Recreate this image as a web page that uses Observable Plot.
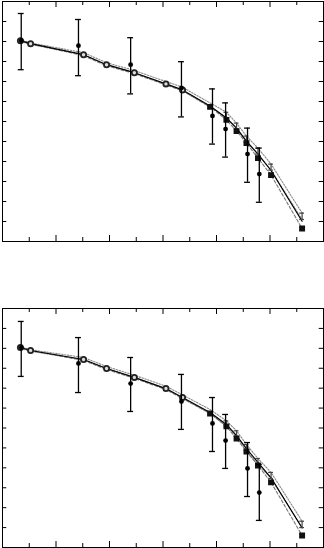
<!DOCTYPE html>
<html>
<head>
<meta charset="utf-8">
<script src="https://cdn.jsdelivr.net/npm/d3@7"></script>
<script src="https://cdn.jsdelivr.net/npm/@observablehq/plot@0.6"></script>
<style>
  html, body { margin: 0; padding: 0; background: #fff; }
  #chart svg { display: block; }
</style>
</head>
<body>
<div id="chart"></div>
<script>
// ---------- data ----------
const xModel = [0.67, 1.05, 3.03, 3.89, 4.93, 6.11, 6.73, 7.76, 8.37, 8.75, 9.12, 9.55, 10.04, 11.2];
const bandHalf = [0.04, 0.04, 0.05, 0.05, 0.06, 0.07, 0.08, 0.10, 0.13, 0.14, 0.15, 0.15, 0.15, 0.16];

// top panel
const solidTop = [10.04, 9.89, 9.34, 8.84, 8.44, 7.88, 7.58, 6.78, 6.18, 5.67, 5.02, 4.37, 3.55, 1.01];
const bandTop  = [10.04, 9.89, 9.39, 8.89, 8.49, 7.93, 7.63, 6.83, 6.33, 5.78, 5.12, 4.52, 3.72, 1.26];
const dashTop  = [10.04, 9.89, 9.29, 8.79, 8.39, 7.83, 7.53, 6.73, 6.08, 5.52, 4.92, 4.17, 3.32, 0.65];
const expX     = [0.7, 2.84, 4.79, 6.69, 7.85, 8.34, 9.16, 9.6];
const expTop   = [10.04, 9.79, 8.84, 7.68, 6.28, 5.62, 4.37, 3.37];
const expTopLo = [8.59, 8.29, 7.38, 6.23, 4.87, 4.22, 2.96, 1.96];
const expTopHi = [11.40, 11.10, 10.19, 8.99, 7.63, 6.93, 5.67, 4.67];

// bottom panel
const solidBot = [10.04, 9.89, 9.44, 8.99, 8.54, 7.98, 7.53, 6.78, 6.18, 5.62, 4.97, 4.27, 3.50, 0.98];
const bandBot  = [10.04, 9.89, 9.49, 9.04, 8.59, 8.03, 7.58, 6.83, 6.23, 5.72, 5.02, 4.32, 3.62, 1.16];
const dashBot  = [10.04, 9.89, 9.39, 8.94, 8.49, 7.93, 7.48, 6.73, 6.08, 5.47, 4.82, 4.12, 3.27, 0.60];
const expBot   = [10.04, 9.24, 8.23, 7.33, 6.23, 5.37, 3.97, 2.76];
const expBotLo = [8.59, 7.78, 6.83, 5.93, 4.82, 3.97, 2.56, 1.36];
const expBotHi = [11.35, 10.54, 9.54, 8.69, 7.53, 6.68, 5.27, 4.17];

const xTicks = [1, 2, 3, 4, 5, 6, 7, 8, 9, 10, 11];
const yTicks = [1, 2, 3, 4, 5, 6, 7, 8, 9, 10, 11];

// ---------- drawing ----------
function panel(solid, band, dash, ey, elo, ehi, height, marginTop) {
  const model = xModel.map((x, i) => ({x, s: solid[i], b: band[i], h: bandHalf[i], d: dash[i], i}));
  const exp = expX.map((x, i) => ({x, y: ey[i], lo: elo[i], hi: ehi[i]}));
  const early = model.filter(d => d.i < 7);
  const late = model.filter(d => d.i >= 7);
  const hg = model.filter(d => d.i >= 8);
  const cap = 0.11, hcap = 0.09;
  const ticks = xTicks.map(t => ({t, len: t % 2 === 0 ? 0.3 : 0.2}));
  const ylen = 0.16;
  return Plot.plot({
    width: 324,
    height,
    marginLeft: 2,
    marginRight: 1,
    marginTop,
    marginBottom: 1,
    x: {domain: [0, 12], axis: null},
    y: {domain: [0, 12], axis: null},
    marks: [
      // inward ticks
      Plot.ruleX(ticks, {x: "t", y1: 0, y2: d => d.len, stroke: "black"}),
      Plot.ruleX(ticks, {x: "t", y1: 12, y2: d => 12 - d.len, stroke: "black"}),
      Plot.ruleY(yTicks, {y: d => d, x1: 0, x2: ylen, stroke: "black"}),
      Plot.ruleY(yTicks, {y: d => d, x1: 12, x2: 12 - ylen, stroke: "black"}),
      // band (dotted)
      Plot.line(model, {x: "x", y: d => d.b + d.h, stroke: "#8a8a8a", strokeWidth: 1.1, strokeDasharray: "1.5,1.5"}),
      Plot.line(model, {x: "x", y: d => d.b - d.h, stroke: "#8a8a8a", strokeWidth: 1.1, strokeDasharray: "1.5,1.5"}),
      // dashed model
      Plot.line(model, {x: "x", y: "d", stroke: "#777", strokeWidth: 1.1, strokeDasharray: "3,2"}),
      // solid model
      Plot.line(model, {x: "x", y: "s", stroke: "black", strokeWidth: 1.2}),
      // band markers (small capped bars)
      Plot.ruleX(hg, {x: "x", y1: d => d.b - d.h, y2: d => d.b + d.h, stroke: "#444", strokeWidth: 1.2}),
      Plot.ruleY(hg, {y: d => d.b + d.h, x1: d => d.x - hcap, x2: d => d.x + hcap, stroke: "#444", strokeWidth: 1.2}),
      Plot.ruleY(hg, {y: d => d.b - d.h, x1: d => d.x - hcap, x2: d => d.x + hcap, stroke: "#444", strokeWidth: 1.2}),
      // squares on dashed model
      Plot.dot(late, {x: "x", y: "d", symbol: "square", r: 2.5, fill: "#111", stroke: "#111"}),
      // open circles on common early points
      Plot.dot(early, {x: "x", y: "s", r: 2.6, fill: "#ddd", stroke: "#222", strokeWidth: 1.8}),
      // experimental data with error bars
      Plot.ruleX(exp, {x: "x", y1: "lo", y2: "hi", stroke: "black", strokeWidth: 1.3}),
      Plot.ruleY(exp, {y: "hi", x1: d => d.x - cap, x2: d => d.x + cap, stroke: "black", strokeWidth: 1.3}),
      Plot.ruleY(exp, {y: "lo", x1: d => d.x - cap, x2: d => d.x + cap, stroke: "black", strokeWidth: 1.3}),
      Plot.dot(exp, {x: "x", y: "y", r: 2.4, fill: "black"}),
      Plot.frame({stroke: "black"})
    ]
  });
}

const root = document.getElementById("chart");
root.appendChild(panel(solidTop, bandTop, dashTop, expTop, expTopLo, expTopHi, 242, 1));
root.appendChild(panel(solidBot, bandBot, dashBot, expBot, expBotLo, expBotHi, 306, 66));
</script>
</body>
</html>
